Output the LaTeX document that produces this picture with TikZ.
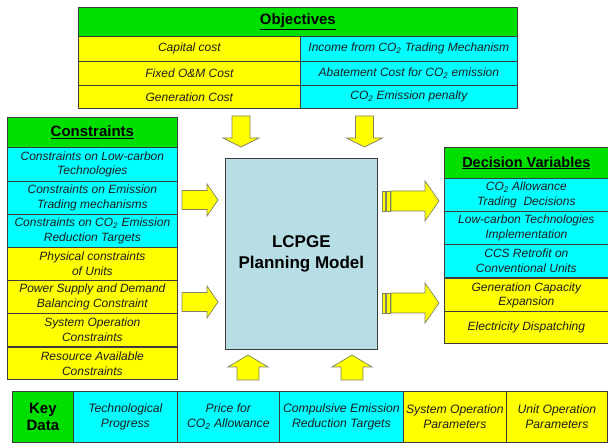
\documentclass[tikz,border=0pt]{standalone}
\usepackage{fontspec}
\setmainfont{Liberation Sans}
\definecolor{hgreen}{RGB}{0,224,0}
\definecolor{ccyan}{RGB}{0,255,255}
\definecolor{cyel}{RGB}{255,255,0}
\definecolor{mblue}{RGB}{183,222,228}
\definecolor{aline}{RGB}{130,130,100}
\definecolor{bline}{RGB}{60,60,60}
\definecolor{txt}{RGB}{30,30,30}
\newcommand\blockarrowH[6]{%
  \draw[barrow] (#1,#3-#4) -- (#2-#6,#3-#4) -- (#2-#6,#3-#5) -- (#2,#3) -- (#2-#6,#3+#5) -- (#2-#6,#3+#4) -- (#1,#3+#4) -- cycle;}
\newcommand\blockarrowV[6]{%
  \draw[barrow] (#1-#4,#2) -- (#1-#4,#3-#6) -- (#1-#5,#3-#6) -- (#1,#3) -- (#1+#5,#3-#6) -- (#1+#4,#3-#6) -- (#1+#4,#2) -- cycle;}
\tikzset{
  cell/.style={draw=bline, line width=0.7pt, anchor=north west, inner sep=0pt, align=center, text=txt,
    font=\fontsize{12}{14.5}\selectfont\itshape},
  keycell/.style={cell, font=\fontsize{12.2}{15}\selectfont\itshape},
  head/.style={cell, fill=hgreen, text=black, font=\fontsize{15}{17}\selectfont\bfseries},
  barrow/.style={fill=cyel, draw=aline, line width=0.7pt, line join=miter},
}
\begin{document}
\begin{tikzpicture}[x=1pt,y=-1pt]
\useasboundingbox (0,0) rectangle (608,443);
% Objectives
\node[head, minimum width=439pt, minimum height=29pt] (obj) at (78,7) {\underline{Objectives}};
\node[cell, fill=cyel, minimum width=222pt, minimum height=25pt] (o1) at (78,36) {Capital cost};
\node[cell, fill=cyel, minimum width=222pt, minimum height=24pt] (o2) at (78,61) {Fixed O\&M Cost};
\node[cell, fill=cyel, minimum width=222pt, minimum height=23pt] (o3) at (78,85) {Generation Cost};
\node[cell, fill=ccyan, minimum width=217pt, minimum height=25pt] (o4) at (300,36) {Income from CO\textsubscript{2} Trading Mechanism};
\node[cell, fill=ccyan, minimum width=217pt, minimum height=24pt] (o5) at (300,61) {Abatement Cost for CO\textsubscript{2} emission};
\node[cell, fill=ccyan, minimum width=217pt, minimum height=23pt] (o6) at (300,85) {CO\textsubscript{2} Emission penalty};
% Constraints
\node[head, minimum width=170pt, minimum height=30pt] (con) at (7,117) {\underline{Constraints}};
\node[cell, fill=ccyan, minimum width=170pt, minimum height=34pt] (c1) at (7,147) {Constraints on Low-carbon\\Technologies};
\node[cell, fill=ccyan, minimum width=170pt, minimum height=33pt] (c2) at (7,181) {Constraints on Emission\\Trading mechanisms};
\node[cell, fill=ccyan, minimum width=170pt, minimum height=33pt] (c3) at (7,214) {Constraints on CO\textsubscript{2} Emission\\Reduction Targets};
\node[cell, fill=cyel, minimum width=170pt, minimum height=33pt] (c4) at (7,247) {Physical constraints\\of Units};
\node[cell, fill=cyel, minimum width=170pt, minimum height=33pt] (c5) at (7,280) {Power Supply and Demand\\Balancing Constraint};
\node[cell, fill=cyel, minimum width=170pt, minimum height=33pt] (c6) at (7,313) {System Operation\\Constraints};
\node[cell, fill=cyel, minimum width=170pt, minimum height=32pt] (c7) at (7,347.5) {Resource Available\\Constraints};
% Decision variables
\node[head, minimum width=164pt, minimum height=31pt, font=\fontsize{14.5}{17}\selectfont\bfseries] (dec) at (444,147) {\underline{Decision Variables}};
\node[cell, fill=ccyan, minimum width=164pt, minimum height=33pt] (d1) at (444,178) {CO\textsubscript{2} Allowance\\Trading\ \ Decisions};
\node[cell, fill=ccyan, minimum width=164pt, minimum height=33pt] (d2) at (444,211) {Low-carbon Technologies\\Implementation};
\node[cell, fill=ccyan, minimum width=164pt, minimum height=33pt] (d3) at (444,244) {CCS Retrofit on\\Conventional Units};
\node[cell, fill=cyel, minimum width=164pt, minimum height=33pt] (d4) at (444,278.5) {Generation Capacity\\Expansion};
\node[cell, fill=cyel, minimum width=164pt, minimum height=31.5pt] (d5) at (444,311.5) {Electricity Dispatching};
% Model
\node[draw=bline, line width=0.7pt, fill=mblue, anchor=north west, minimum width=152pt, minimum height=191pt,
  inner sep=0pt, align=center, font=\fontsize{17}{21}\selectfont\bfseries] (model) at (225,158) {LCPGE\\Planning Model};
% Key data
\node[head, minimum width=61pt, minimum height=51pt] (key) at (12,391) {Key\\Data};
\node[keycell, fill=ccyan, minimum width=104pt, minimum height=51pt] (k1) at (73,391) {Technological\\Progress};
\node[keycell, fill=ccyan, minimum width=102pt, minimum height=51pt] (k2) at (177,391) {Price for\\CO\textsubscript{2} Allowance};
\node[keycell, fill=ccyan, minimum width=124pt, minimum height=51pt] (k3) at (279,391) {Compulsive Emission\\Reduction Targets};
\node[keycell, fill=cyel, minimum width=103pt, minimum height=51pt] (k4) at (403,391) {System Operation\\Parameters};
\node[keycell, fill=cyel, minimum width=101pt, minimum height=51pt] (k5) at (506,391) {Unit Operation\\Parameters};
% Arrows: objectives -> model
\blockarrowV{241}{116}{147}{9}{18}{9}
\blockarrowV{364.5}{116}{147}{9}{18}{9}
% key data -> model
\blockarrowV{248}{380}{355}{11}{20}{-12}
\blockarrowV{352}{380}{355}{11}{20}{-12}
% constraints -> model
\blockarrowH{182}{218}{200}{9.5}{16}{11}
\blockarrowH{182}{218}{302}{9.5}{16}{11}
% model -> decision variables
\draw[barrow] (382,191) rectangle (385.5,211);
\draw[barrow] (386.5,191) rectangle (390,211);
\blockarrowH{391}{439}{201}{10}{20}{14}
\draw[barrow] (382,293) rectangle (385.5,313);
\draw[barrow] (386.5,293) rectangle (390,313);
\blockarrowH{391}{439}{303}{10}{20}{14}
\end{tikzpicture}
\end{document}
